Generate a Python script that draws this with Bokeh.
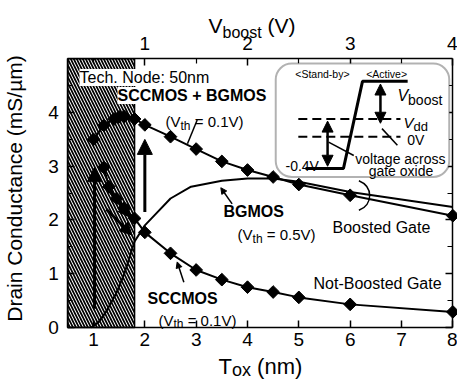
import numpy as np
from bokeh.plotting import figure
from bokeh.models import (Range1d, LinearAxis, FixedTicker, Label, Arrow, NormalHead,
                          BoxAnnotation)
from bokeh.embed import file_html
from bokeh.resources import INLINE

# ---------------- data ----------------
tox_ticks = [1, 2, 3, 4, 5, 6, 7, 8]
g_ticks = [0, 1, 2, 3, 4]
g_minor = [0.5, 1.5, 2.5, 3.5, 4.5]
vboost_ticks = [1, 2, 3, 4]
vboost_minor = [0.5, 1.5, 2.5, 3.5]

# SCCMOS + BGMOS (boosted gate), Vth = 0.1 V
boost_x = [1.0, 1.2, 1.4, 1.5, 1.6, 1.8, 2.0, 2.5, 3.0, 3.5, 4.0, 4.5, 5.0, 6.0, 8.0]
boost_y = [3.50, 3.76, 3.88, 3.92, 3.93, 3.88, 3.77, 3.55, 3.32, 3.09, 2.93, 2.80, 2.66, 2.46, 2.08]

# SCCMOS (not boosted gate), Vth = 0.1 V
sccmos_x = [1.2, 1.3, 1.45, 1.6, 1.8, 2.0, 2.5, 3.0, 3.5, 4.0, 4.5, 5.0, 6.0, 8.0]
sccmos_y = [2.98, 2.62, 2.40, 2.22, 2.03, 1.77, 1.38, 1.07, 0.89, 0.75, 0.66, 0.56, 0.43, 0.29]

# BGMOS, Vth = 0.5 V
bg_x = [0.95, 1.1, 1.25, 1.45, 1.6, 1.8, 2.0, 2.2, 2.5, 2.9, 3.5, 4.0, 4.5, 5.0, 6.0, 7.0, 8.0]
bg_y = [0.0, 0.10, 0.30, 0.65, 1.0, 1.60, 1.90, 2.10, 2.40, 2.62, 2.73, 2.77, 2.77, 2.71, 2.52, 2.38, 2.24]

# axis extents and hatched (tech-node limited) region
tox_min, tox_max = 0.5, 8.0
g_min, g_max = 0.0, 5.0
vb_min, vb_max = 0.25, 4.0
hatch_left, hatch_right = 0.5, 1.8

FONT = "Liberation Sans"

W = {' ': 278, '(': 333, ')': 333, '=': 584, '.': 278, '-': 333, ':': 278, '/': 278,
     'A': 667, 'B': 667, 'C': 722, 'D': 722, 'G': 778, 'M': 833, 'N': 722, 'O': 778,
     'S': 667, 'T': 611, 'V': 667, 'a': 556, 'b': 556, 'c': 500, 'd': 556, 'e': 556,
     'h': 556, 'i': 222, 'l': 222, 'm': 833, 'n': 556, 'o': 556, 'r': 333, 's': 500,
     't': 278, 'u': 556, 'v': 500, 'x': 500, 'y': 500}


def tw(s, size):
    return sum(W.get(c, 556) for c in s) * size / 1000.0


# The frame fills the canvas; axes sit at fixed data locations so that
# axis titles with subscripts can be drawn as ordinary labels.
WIDTH, HEIGHT = 457, 381
p = figure(width=WIDTH, height=HEIGHT, x_range=Range1d(-0.812, 8.091),
           y_range=Range1d(-1.005, 6.084), x_axis_type=None, y_axis_type=None,
           output_backend="svg", toolbar_location=None, min_border=0)
p.extra_x_ranges = {"vb": Range1d(-0.406, 4.0455)}
p.outline_line_color = None
p.background_fill_color = "white"
p.border_fill_color = "white"


def style_axis(ax, standoff):
    ax.axis_line_width = 1.5
    ax.axis_line_color = "black"
    ax.major_tick_in = 7
    ax.major_tick_out = 0
    ax.minor_tick_in = 5
    ax.minor_tick_out = 0
    ax.major_tick_line_width = 1.5
    ax.minor_tick_line_width = 1.2
    ax.major_label_text_font = FONT
    ax.major_label_text_font_size = "19px"
    ax.major_label_text_color = "black"
    ax.major_label_standoff = standoff


# hatched region
p.quad(left=[hatch_left], right=[hatch_right], bottom=[g_min], top=[g_max], fill_color="white",
       hatch_pattern="\\", hatch_color="black", hatch_scale=6, hatch_weight=1.7,
       line_color="black", line_width=1.5)

xa = LinearAxis(ticker=FixedTicker(ticks=tox_ticks, minor_ticks=[]), fixed_location=g_min,
                bounds=(tox_min, tox_max))
style_axis(xa, 6)
p.add_layout(xa, "below")

ya = LinearAxis(ticker=FixedTicker(ticks=g_ticks, minor_ticks=g_minor), fixed_location=tox_min,
                bounds=(g_min, g_max))
style_axis(ya, 9)
p.add_layout(ya, "left")

ta = LinearAxis(x_range_name="vb", ticker=FixedTicker(ticks=vboost_ticks, minor_ticks=vboost_minor),
                fixed_location=g_max, bounds=(vb_min, vb_max))
style_axis(ta, 9)
p.add_layout(ta, "above")

ra = LinearAxis(ticker=FixedTicker(ticks=g_ticks, minor_ticks=g_minor), fixed_location=tox_max,
                bounds=(g_min, g_max), major_label_overrides={t: "" for t in g_ticks})
style_axis(ra, 0)
p.add_layout(ra, "right")

# curves
p.line(bg_x, bg_y, line_color="black", line_width=2)
p.line(boost_x, boost_y, line_color="black", line_width=2)
p.scatter(boost_x, boost_y, marker="square", angle=np.pi / 4, size=9,
          fill_color="black", line_color="black")
p.line(sccmos_x, sccmos_y, line_color="black", line_width=2)
p.scatter(sccmos_x, sccmos_y, marker="square", angle=np.pi / 4, size=9,
          fill_color="black", line_color="black")


def arrow(x0, y0, x1, y1, w=3, size=13, both=False):
    kw = dict(end=NormalHead(size=size, fill_color="black", line_color="black", line_width=1),
              x_start=x0, y_start=y0, x_end=x1, y_end=y1, line_width=w, line_color="black")
    if both:
        kw["start"] = NormalHead(size=size, fill_color="black", line_color="black", line_width=1)
    p.add_layout(Arrow(**kw))


# big arrows
arrow(1.02, 0.35, 1.02, 2.98, w=3, size=14)
arrow(2.0, 2.15, 2.0, 3.50, w=3, size=15)
arrow(1.30, 2.55, 1.72, 2.05, w=3, size=12)
arrow(1.25, 2.20, 1.75, 1.72, w=3, size=12)

# pointer lines
p.segment(x0=[3.02], y0=[3.86], x1=[2.83], y1=[3.42], line_color="black", line_width=1.5)
arrow(3.70, 2.30, 3.48, 2.60, w=1.5, size=6)
arrow(2.76, 0.84, 2.63, 1.22, w=1.5, size=6)
p.bezier(x0=[6.17], y0=[2.73], x1=[6.17], y1=[2.18], cx0=[6.45], cy0=[2.62],
         cx1=[6.45], cy1=[2.28], line_color="black", line_width=1.5)


def label(x, y, text, size=16, style="normal", align="left", baseline="middle", bg=None, angle=0):
    kw = dict(x=x, y=y, text=text, text_font=FONT, text_font_size=f"{size}px",
              text_font_style=style, text_align=align, text_baseline=baseline,
              text_color="black", angle=angle)
    if bg:
        kw.update(background_fill_color=bg, background_fill_alpha=1.0)
    p.add_layout(Label(**kw))


def rich(x, y, pieces):
    off = 0.0
    for txt, size, dy, style in pieces:
        stripped = txt.lstrip(" ")
        off += tw(txt[:len(txt) - len(stripped)], size)
        p.add_layout(Label(x=x, y=y, x_offset=off, y_offset=dy, text=stripped,
                           text_font=FONT, text_font_size=f"{size}px", text_font_style=style,
                           text_align="left", text_baseline="alphabetic", text_color="black"))
        off += tw(stripped, size)


# main annotations
label(0.727, 4.65, "Tech. Node: 50nm", size=16, bg="white")
label(1.468, 4.316, "SCCMOS + BGMOS", size=16, style="bold", bg="white")
rich(2.403, 3.83, [("(V", 15, 0, "normal"), ("th", 12, -4, "normal"), (" = 0.1V)", 15, 0, "normal")])
label(3.533, 2.158, "BGMOS", size=16, style="bold")
rich(3.806, 1.73, [("(V", 15, 0, "normal"), ("th", 12, -4, "normal"), (" = 0.5V)", 15, 0, "normal")])
label(2.052, 0.54, "SCCMOS", size=16, style="bold")
rich(2.266, 0.13, [("(V", 15, 0, "normal"), ("th", 12, -4, "normal"), (" = 0.1V)", 15, 0, "normal")])
label(5.656, 1.86, "Boosted Gate", size=16)
label(5.286, 0.82, "Not-Boosted Gate", size=16)

# axis titles
label(-0.53, 2.586, "Drain Conductance (mS/\u00b5m)", size=21, align="center", angle=np.pi / 2)
rich(3.435, -0.72, [("T", 22, 0, "normal"), ("ox", 18, -4, "normal"), (" (nm)", 22, 0, "normal")])
rich(3.240, 5.619, [("V", 21, 0, "normal"), ("boost", 16, -7, "normal"), (" (V)", 21, 0, "normal")])

# inset
p.add_layout(BoxAnnotation(left=4.55, right=7.93, bottom=2.80, top=4.91, fill_color="white",
                           fill_alpha=1.0, line_color="black", line_width=2, border_radius=16))
p.line([5.13, 5.87, 6.24, 7.12], [2.96, 2.96, 4.58, 4.58], line_color="black",
       line_width=3, level="overlay")
p.line([4.99, 6.98], [3.88, 3.88], line_color="black", line_width=2, line_dash="9 5", level="overlay")
p.line([4.99, 6.98], [3.55, 3.55], line_color="black", line_width=2, line_dash="9 5", level="overlay")
arrow(5.56, 3.0, 5.56, 3.84, w=2.5, size=11, both=True)
arrow(6.59, 4.53, 6.59, 3.80, w=2.5, size=11, both=True)
p.segment(x0=[5.58, 6.62], y0=[3.45, 3.70], x1=[6.07, 6.92], y1=[3.20, 3.39],
          line_color="black", line_width=1.5, level="overlay")
label(5.46, 4.71, "<Stand-by>", size=10.5, align="center")
label(6.71, 4.71, "<Active>", size=10.5, align="center")
rich(6.92, 4.32, [("V", 16, 0, "italic"), ("boost", 14, -5, "normal")])
rich(7.04, 3.82, [("V", 15, 0, "italic"), ("dd", 13, -4, "normal")])
label(7.11, 3.48, "0V", size=14, baseline="alphabetic")
label(4.74, 3.0, "-0.4V", size=14, baseline="alphabetic")
label(6.10, 3.14, "voltage across", size=14, baseline="alphabetic")
label(6.36, 2.92, "gate oxide", size=14, baseline="alphabetic")

open("out.html", "w").write(file_html(p, INLINE))
